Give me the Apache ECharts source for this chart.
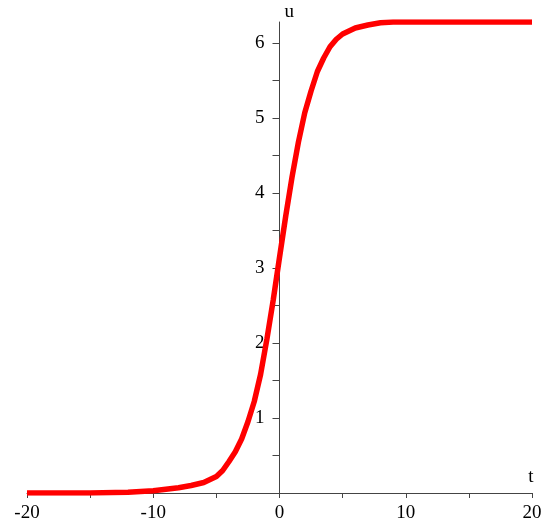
<!DOCTYPE html>
<html>
<head>
<meta charset="utf-8">
<script src="https://cdn.jsdelivr.net/npm/echarts@6/dist/echarts.min.js"></script>
<style>html,body{margin:0;padding:0;background:#fff}#c{width:550px;height:530px}</style>
</head>
<body>
<div id="c"></div>
<script>
// Data
const tValues = [-20, -15, -12, -11, -10, -9, -8, -7, -6, -5, -4.5, -4, -3.5, -3, -2.5, -2, -1.5, -1, -0.5, 0, 0.5, 1, 1.5, 2, 2.5, 3, 3.5, 4, 4.5, 5, 6, 7, 8, 9, 10, 12, 15, 20];
const uValues = [0.0, 0.0, 0.01, 0.02, 0.03, 0.05, 0.07, 0.10, 0.14, 0.22, 0.30, 0.42, 0.55, 0.72, 0.95, 1.22, 1.58, 2.05, 2.57, 3.14, 3.70, 4.22, 4.68, 5.07, 5.36, 5.62, 5.80, 5.95, 6.05, 6.12, 6.20, 6.24, 6.27, 6.28, 6.28, 6.28, 6.28, 6.28];
const xTicks = [-20, -15, -10, -5, 0, 5, 10, 15, 20];
const xLabels = [-20, -10, 0, 10, 20];
const yTicks = [0.5, 1, 1.5, 2, 2.5, 3, 3.5, 4, 4.5, 5, 5.5, 6];
const yLabels = [1, 2, 3, 4, 5, 6];

const data = tValues.map((t, i) => [t, uValues[i]]);
const font = 'Liberation Serif';
const axisCol = '#444';
const gridLeft = 27, gridRight = 18;
const yOffset = -(550 - gridLeft - gridRight) / 2; // put y axis at t = 0 with its labels

const chart = echarts.init(document.getElementById('c'));
chart.setOption({
  animation: false,
  backgroundColor: '#fff',
  grid: { left: gridLeft, right: gridRight, top: 22, bottom: 37, containLabel: false },
  xAxis: {
    type: 'value', min: -20, max: 20,
    name: 't', nameLocation: 'end', nameGap: -1,
    nameTextStyle: { fontFamily: font, fontSize: 19, color: '#000', verticalAlign: 'bottom', align: 'center', padding: [0, 0, 6, 0] },
    axisLine: { show: true, onZero: true, lineStyle: { color: axisCol, width: 1 } },
    axisTick: { show: true, length: 5, customValues: xTicks, lineStyle: { color: axisCol } },
    axisLabel: { customValues: xLabels, fontFamily: font, fontSize: 19, color: '#000', margin: 11 },
    splitLine: { show: false }
  },
  yAxis: {
    type: 'value', min: 0, max: 6.28,
    offset: yOffset,
    name: 'u', nameLocation: 'end', nameGap: 0,
    nameTextStyle: { fontFamily: font, fontSize: 19, color: '#000', align: 'left', padding: [0, 0, 0, 5] },
    axisLine: { show: true, onZero: false, lineStyle: { color: axisCol, width: 1 } },
    axisTick: { show: true, length: 7, customValues: yTicks, lineStyle: { color: axisCol } },
    axisLabel: { customValues: yLabels, fontFamily: font, fontSize: 19, color: '#000', margin: 15 },
    splitLine: { show: false }
  },
  series: [{
    type: 'line', data: data, showSymbol: false, smooth: false,
    lineStyle: { color: '#ff0000', width: 5.5 },
    itemStyle: { color: '#ff0000' }
  }]
});
</script>
</body>
</html>
